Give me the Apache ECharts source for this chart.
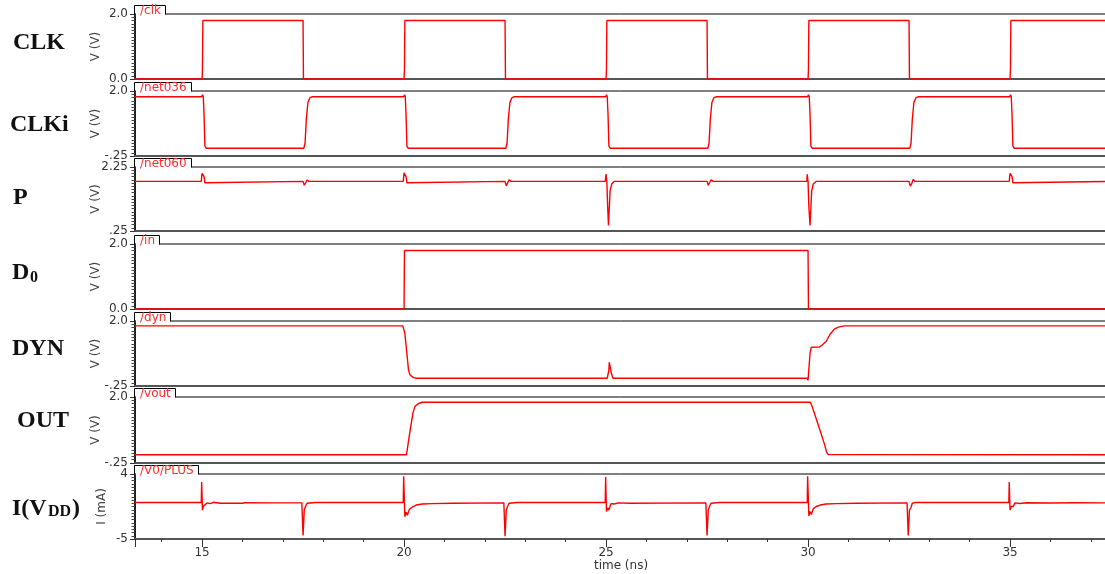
<!DOCTYPE html>
<html><head><meta charset="utf-8">
<script src="https://cdn.jsdelivr.net/npm/echarts@6/dist/echarts.min.js"></script>
<style>html,body{margin:0;padding:0;background:#fff}#c{width:1105px;height:574px}</style>
</head><body><div id="c"></div>
<script>
// ---------------- DATA ----------------
const tabLabels = ['/clk', '/net036', '/net060', '/in', '/dyn', '/vout', '/V0/PLUS'];
const yAxisNames = ['V (V)', 'V (V)', 'V (V)', 'V (V)', 'V (V)', 'V (V)', 'I (mA)'];
const yMins = [0, -0.25, 0.25, 0, -0.25, -0.25, -5];
const yMaxs = [2.0, 2.0, 2.25, 2.0, 2.0, 2.0, 4];
const yTickLabels = [['0.0', '2.0'], ['-.25', '2.0'], ['.25', '2.25'], ['0.0', '2.0'], ['-.25', '2.0'], ['-.25', '2.0'], ['-5', '4']];
const xMin = 13.34, xMax = 37.4;
const xLabelValues = [15, 20, 25, 30, 35];
const xAxisName = 'time (ns)';

// [time ns, value]
const clkWave = [[13.34,0],[15.0,0],[15.01,0.3],[15.02,1.8],[17.5,1.8],[17.51,0],[20.0,0],[20.01,0.3],[20.02,1.8],[22.5,1.8],[22.51,0],[25.0,0],[25.01,0.3],[25.02,1.8],[27.5,1.8],[27.51,0],[30.0,0],[30.01,0.3],[30.02,1.8],[32.5,1.8],[32.51,0],[35.0,0],[35.01,0.3],[35.02,1.8],[37.4,1.8]];

const clkiWave = [[13.34,1.8],
 [14.99,1.8],[15.01,1.87],[15.03,1.8],[15.05,1.15],[15.07,0.1],[15.1,0.02],
 [17.52,0.02],[17.55,0.2],[17.58,1.0],[17.62,1.6],[17.67,1.77],[17.72,1.8],
 [19.99,1.8],[20.01,1.87],[20.03,1.8],[20.05,1.15],[20.07,0.1],[20.1,0.02],
 [22.52,0.02],[22.55,0.2],[22.58,1.0],[22.62,1.6],[22.67,1.77],[22.72,1.8],
 [24.99,1.8],[25.01,1.87],[25.03,1.8],[25.05,1.15],[25.07,0.1],[25.1,0.02],
 [27.52,0.02],[27.55,0.2],[27.58,1.0],[27.62,1.6],[27.67,1.77],[27.72,1.8],
 [29.99,1.8],[30.01,1.87],[30.03,1.8],[30.05,1.15],[30.07,0.1],[30.1,0.02],
 [32.52,0.02],[32.55,0.2],[32.58,1.0],[32.62,1.6],[32.67,1.77],[32.72,1.8],
 [34.99,1.8],[35.01,1.87],[35.03,1.8],[35.05,1.15],[35.07,0.1],[35.1,0.02],
 [37.4,0.02]];

const pWave = [[13.34,1.8],
 [14.98,1.8],[15.0,2.05],[15.03,2.06],[15.05,1.95],[15.07,1.76],[15.1,1.8],
 [17.5,1.8],[17.53,1.68],[17.57,1.72],[17.6,1.84],[17.65,1.8],
 [19.98,1.8],[20.0,2.07],[20.03,2.08],[20.05,1.95],[20.07,1.76],[20.1,1.8],
 [22.5,1.8],[22.53,1.66],[22.57,1.72],[22.6,1.85],[22.65,1.8],
 [24.98,1.8],[25.0,2.03],[25.02,1.8],[25.04,1.0],[25.06,0.42],[25.08,0.45],[25.1,1.5],[25.14,1.72],[25.2,1.8],
 [27.5,1.8],[27.53,1.68],[27.57,1.72],[27.6,1.85],[27.65,1.8],
 [29.97,1.8],[29.98,2.02],[30.0,1.8],[30.02,1.0],[30.05,0.42],[30.07,0.45],[30.09,1.5],[30.13,1.72],[30.2,1.8],
 [32.5,1.8],[32.53,1.65],[32.57,1.74],[32.6,1.86],[32.65,1.8],
 [34.98,1.8],[35.0,2.05],[35.03,2.06],[35.05,1.95],[35.07,1.76],[35.1,1.8],
 [37.4,1.8]];

const d0Wave = [[13.34,0],[20.0,0],[20.01,1.8],[30.0,1.8],[30.01,0],[37.4,0]];

const dynWave = [[13.34,1.83],[14.99,1.83],[15.02,1.87],[15.05,1.83],
 [19.97,1.83],[20.02,1.57],[20.07,0.88],[20.11,0.3],[20.15,0.13],[20.23,0.04],[20.31,0.02],
 [25.03,0.02],[25.05,-0.04],[25.07,0.3],[25.08,0.57],[25.1,0.57],[25.13,0.2],[25.17,0.02],
 [29.98,0.02],[30.0,-0.05],[30.03,-0.06],[30.05,0.9],[30.08,1.09],[30.28,1.1],[30.35,1.17],[30.45,1.3],[30.55,1.55],[30.65,1.72],[30.75,1.79],[30.9,1.83],
 [34.99,1.83],[35.02,1.86],[35.05,1.83],[37.4,1.83]];

const outWave = [[13.34,0.03],[20.06,0.03],[20.1,0.4],[20.16,0.95],[20.22,1.45],[20.27,1.68],[20.35,1.77],[20.45,1.82],
 [25.07,1.82],[25.09,1.86],[25.12,1.82],
 [30.06,1.82],[30.1,1.68],[30.2,1.27],[30.3,0.85],[30.4,0.42],[30.46,0.12],[30.5,0.04],[30.53,0.03],[37.4,0.03]];

const iddWave = [[13.34,0.05],[14.98,0.05],[14.99,2.9],[15.0,2.9],[15.01,-1.0],[15.03,-0.5],[15.07,-0.75],[15.12,0.0],[15.2,-0.1],[15.28,0.08],[15.45,-0.05],[16.0,-0.05],[16.05,0.02],[16.8,0.0],
 [17.47,0.0],[17.49,-0.2],[17.5,-4.5],[17.52,-4.5],[17.53,-1.0],[17.56,-0.5],[17.6,-0.05],[17.8,0.05],
 [19.98,0.05],[19.99,3.7],[20.0,3.7],[20.02,-1.9],[20.05,-1.3],[20.08,-1.7],[20.13,-0.9],[20.2,-0.6],[20.3,-0.3],[20.45,-0.15],[20.7,-0.1],[21.2,-0.05],
 [22.47,0.0],[22.49,-0.2],[22.5,-4.6],[22.52,-4.6],[22.53,-1.0],[22.56,-0.5],[22.6,-0.05],[22.8,0.05],
 [24.98,0.05],[24.99,3.6],[25.0,3.6],[25.01,-1.2],[25.04,-0.7],[25.07,-1.0],[25.12,-0.1],[25.2,-0.15],[25.3,0.0],[25.6,-0.05],
 [27.47,0.0],[27.49,-0.2],[27.5,-4.5],[27.52,-4.5],[27.53,-1.0],[27.56,-0.5],[27.6,-0.05],[27.8,0.05],
 [29.98,0.05],[29.99,3.7],[30.0,3.7],[30.02,-1.8],[30.05,-1.2],[30.08,-1.6],[30.13,-0.8],[30.2,-0.5],[30.3,-0.3],[30.45,-0.15],[30.7,-0.1],[31.2,-0.05],
 [32.45,0.0],[32.47,-0.2],[32.48,-4.5],[32.5,-4.5],[32.51,-1.0],[32.55,-0.6],[32.58,-0.05],[32.65,0.05],
 [34.97,0.05],[34.98,2.9],[34.99,2.9],[35.0,-1.0],[35.03,-0.5],[35.08,-0.5],[35.12,0.0],[35.25,-0.08],[35.4,0.02],[36.0,-0.02],[36.6,0.02],[37.4,0.0]];

const waves = [clkWave, clkiWave, pWave, d0Wave, dynWave, outWave, iddWave];

// ---------------- LAYOUT ----------------
const gridTops = [14, 91, 167, 244, 321, 397, 474];
const gridHeights = [65, 65, 64, 65, 65, 66, 65];
const nameGaps = [33, 33, 33, 33, 33, 33, 27];
const GRID_LEFT = 135, GRID_RIGHT = -2;
const tickFont = 'DejaVu Sans';
const labelFont = '"Liberation Serif", "Times New Roman", serif';
const TAB_FONT = '12px "DejaVu Sans"';

const chart = echarts.init(document.getElementById('c'), null, {renderer: 'canvas'});

const grids = gridTops.map((t, i) => ({
  left: GRID_LEFT, right: GRID_RIGHT, top: t, height: gridHeights[i],
  show: true, borderColor: '#000', borderWidth: 1, backgroundColor: 'transparent',
  containLabel: false, outerBoundsMode: 'none'
}));

const xAxes = gridTops.map((t, i) => ({
  type: 'value', gridIndex: i, position: 'bottom', min: xMin, max: xMax, splitNumber: 24,
  axisLine: {show: true, onZero: false, lineStyle: {color: '#555', width: 2}},
  axisTick: {show: i === 6, length: 3, lineStyle: {color: '#333', width: 1}},
  axisLabel: {show: false}, splitLine: {show: false}
}));
xAxes.push({
  type: 'value', gridIndex: 6, position: 'bottom', min: xMin, max: xMax, splitNumber: 5,
  axisLine: {show: false, onZero: false},
  axisTick: {show: true, length: 8, lineStyle: {color: '#333', width: 1}},
  axisLabel: {show: true, margin: 8, fontSize: 12, color: '#333', fontFamily: tickFont,
    formatter: v => xLabelValues.some(x => Math.abs(x - v) < 1e-6) ? String(Math.round(v)) : ''},
  splitLine: {show: false},
  name: xAxisName, nameLocation: 'middle', nameGap: 21, nameMoveOverlap: false,
  nameTextStyle: {fontSize: 12, color: '#333', fontFamily: tickFont}
});

const yAxes = gridTops.map((t, i) => ({
  type: 'value', gridIndex: i, min: yMins[i], max: yMaxs[i], interval: yMaxs[i] - yMins[i],
  axisLine: {show: true, onZero: false, lineStyle: {color: '#000', width: 1.5}},
  axisTick: {show: true, length: 5, lineStyle: {color: '#333', width: 1}},
  minorTick: {show: true, splitNumber: 20, length: 3.5, lineStyle: {color: '#444', width: 1}},
  axisLabel: {show: true, margin: 7, fontSize: 12, color: '#333', fontFamily: tickFont,
    formatter: v => Math.abs(v - yMins[i]) < 1e-9 ? yTickLabels[i][0] : yTickLabels[i][1]},
  splitLine: {show: false},
  name: yAxisNames[i], nameLocation: 'middle', nameGap: nameGaps[i], nameRotate: 90, nameMoveOverlap: false,
  nameTextStyle: {fontSize: 12, color: '#444', fontFamily: tickFont}
}));

const series = waves.map((w, i) => ({
  type: 'line', xAxisIndex: i, yAxisIndex: i, data: w,
  showSymbol: false, symbol: 'none', silent: true, clip: true,
  lineStyle: {color: '#ff0000', width: 1.4}
}));

// tab widths from the text
const mctx = document.createElement('canvas').getContext('2d');
mctx.font = TAB_FONT;

const graphics = [];
tabLabels.forEach((lab, i) => {
  const top = gridTops[i];
  const w = Math.round(mctx.measureText(lab).width) + 10;
  graphics.push({type: 'rect', z: 100, silent: true,
    shape: {x: 135.8, y: top - 8, width: w - 1.5, height: 9.5},
    style: {fill: '#fff', stroke: null}});
  graphics.push({type: 'polyline', z: 101, silent: true,
    shape: {points: [[134.5, top + 0.5], [134.5, top - 8.5], [134.5 + w, top - 8.5], [134.5 + w, top + 0.5]]},
    style: {stroke: '#000', lineWidth: 1, fill: null}});
  graphics.push({type: 'text', x: 140, y: top + 3.5, z: 102, silent: true,
    style: {text: lab, fill: '#ff2a2a', font: TAB_FONT, align: 'left', verticalAlign: 'bottom', lineHeight: 13}});
});
function bigLabel(text, x, y, size) {
  graphics.push({type: 'text', x: x, y: y, z: 100,
    style: {text: text, fill: '#111', font: 'bold ' + size + 'px ' + labelFont, align: 'left', verticalAlign: 'middle'}});
}
bigLabel('CLK', 13, 42.5, 24);
bigLabel('CLKi', 10, 124.5, 24);
bigLabel('P', 13, 197.5, 24);
bigLabel('D', 12, 272.5, 24);
bigLabel('0', 30, 277.6, 16);
bigLabel('DYN', 12, 349, 24);
bigLabel('OUT', 17, 420.5, 24);
bigLabel('I(V', 12, 509, 24);
bigLabel('DD', 48, 511.6, 16);
bigLabel(')', 72, 509, 24);

chart.setOption({
  animation: false,
  backgroundColor: '#fff',
  grid: grids,
  xAxis: xAxes,
  yAxis: yAxes,
  series: series,
  graphic: graphics
});
</script>
</body></html>
